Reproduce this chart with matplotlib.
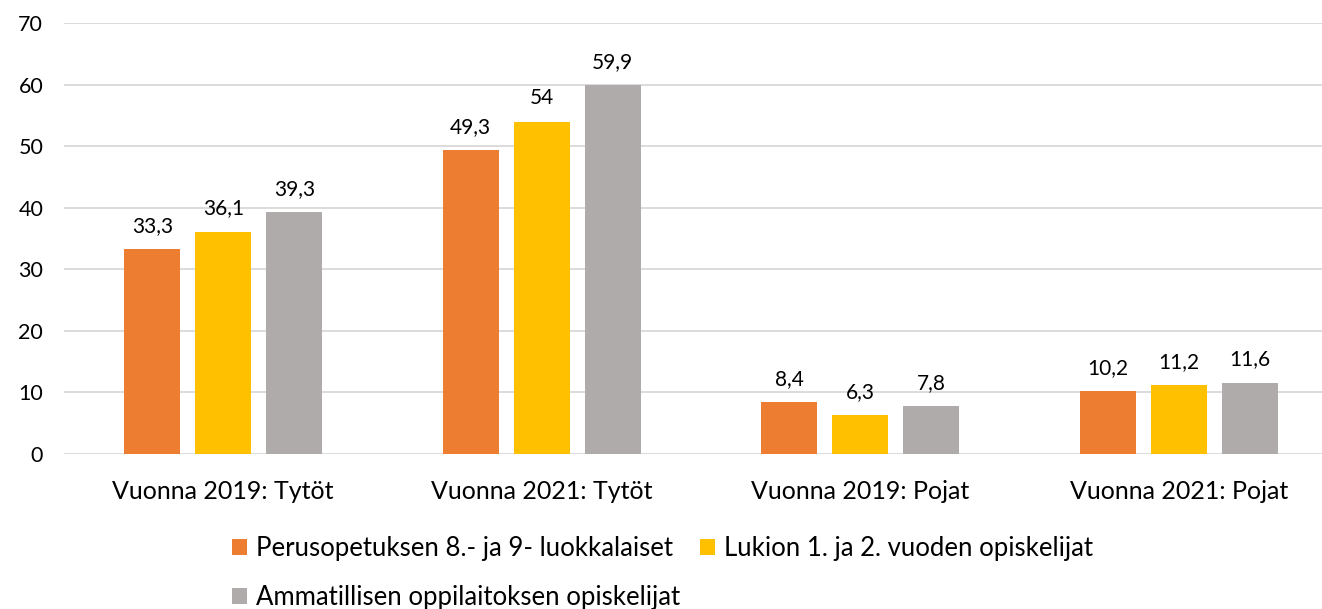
import matplotlib
matplotlib.use("Agg")
import matplotlib.pyplot as plt
import numpy as np

plt.rcParams['font.family'] = ['Lato', 'DejaVu Sans']

categories = ["Vuonna 2019: Tytöt", "Vuonna 2021: Tytöt", "Vuonna 2019: Pojat", "Vuonna 2021: Pojat"]
series_names = ["Perusopetuksen 8.- ja 9- luokkalaiset", "Lukion 1. ja 2. vuoden opiskelijat",
                "Ammatillisen oppilaitoksen opiskelijat"]
perus = [33.3, 49.3, 8.4, 10.2]
lukio = [36.1, 54.0, 6.3, 11.2]
ammat = [39.3, 59.9, 7.8, 11.6]
values = [perus, lukio, ammat]
labels = [["33,3", "49,3", "8,4", "10,2"], ["36,1", "54", "6,3", "11,2"], ["39,3", "59,9", "7,8", "11,6"]]
colors = ["#ED7D31", "#FFC000", "#AFABAB"]

W, H = 1322, 609
fig = plt.figure(figsize=(W / 100, H / 100), dpi=100)
ax = fig.add_axes([64 / W, (H - 454) / H, (W - 64) / W, (454 - 23) / H])

x = np.arange(len(categories))
bw = 0.176
step = 0.223
handles = []
for i, (vals, c, lab) in enumerate(zip(values, colors, labels)):
    b = ax.bar(x + (i - 1) * step, vals, bw, color=c, label=series_names[i], zorder=3)
    handles.append(b)
    for xi, v, t in zip(x + (i - 1) * step, vals, lab):
        ax.annotate(t, (xi, v), xytext=(0, 9.5), textcoords="offset points",
                    ha="center", va="bottom", fontsize=15, color="#000000")

ax.set_ylim(0, 70)
ax.set_xlim(-0.5, 3.45)
ax.set_yticks(range(0, 71, 10))
ax.set_xticks(x)
ax.set_xticklabels(categories, fontsize=18)
ax.tick_params(axis='y', labelsize=15.5, length=0, pad=15)
ax.tick_params(axis='x', length=0, pad=19)
ax.grid(axis='y', color="#D9D9D9", linewidth=1.3, zorder=0)
for s in ax.spines.values():
    s.set_visible(False)

order = [handles[0], handles[2], handles[1]]
fig.legend(handles=order, loc="upper left", bbox_to_anchor=(219 / W, 1 - 523 / H),
           ncol=2, frameon=False, fontsize=18.5, handlelength=0.6, handleheight=0.6,
           handletextpad=0.35, columnspacing=0.75, labelspacing=0.95, borderpad=0)

fig.savefig("out.png", dpi=100)
